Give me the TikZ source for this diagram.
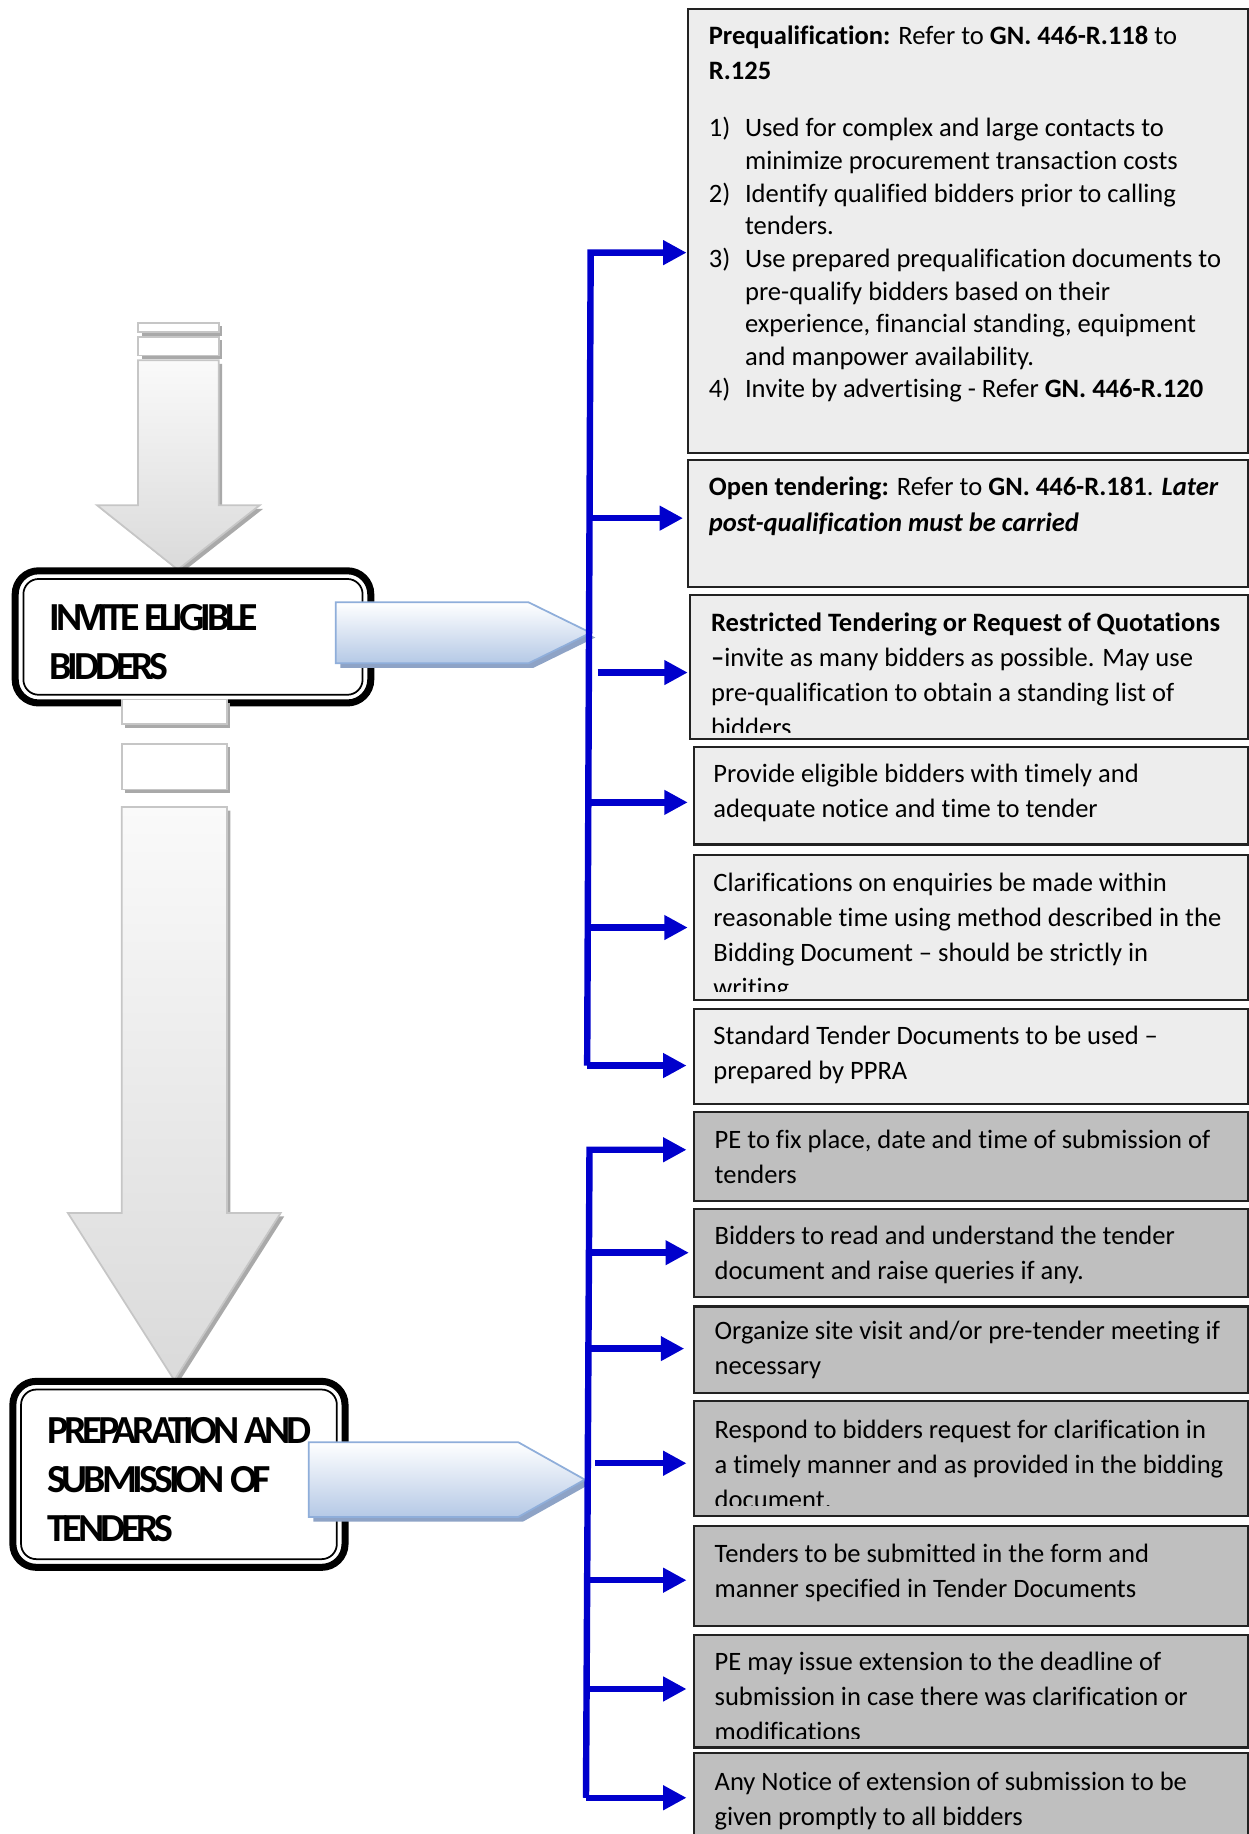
\documentclass[tikz,border=0pt]{standalone}
\usepackage{fontspec}
\setmainfont{Carlito}[Ligatures=NoCommon]
\newfontfamily\stagefont{Carlito}[LetterSpace=-10,Ligatures=NoCommon]
\usetikzlibrary{arrows.meta}

\definecolor{flowblue}{HTML}{0000CC}
\definecolor{lightbox}{HTML}{EDEDED}
\definecolor{darkbox}{HTML}{BFBFBF}
\definecolor{boxline}{HTML}{222222}
\definecolor{greytop}{HTML}{FAFAFA}
\definecolor{greybot}{HTML}{DADADA}
\definecolor{greyedge}{HTML}{C6C6C6}
\definecolor{greyshade}{HTML}{A9A9A9}
\definecolor{bluetop}{HTML}{FFFFFF}
\definecolor{bluebot}{HTML}{B5C9E6}
\definecolor{blueedge}{HTML}{8FAEDA}
\definecolor{blueshade}{HTML}{8EA3C6}

\newcommand\bodyfont{\fontsize{22.7}{30}\selectfont}
\newcommand\tline[1]{\hbox{#1}}
\newcommand\numline[2]{\hbox{\makebox[31pt][l]{#1}#2}}
\newcommand\contline[1]{\hbox{\kern31pt #1}}

\tikzset{
  infobox/.style={draw=boxline, line width=1.8pt, outer sep=0pt, inner sep=0pt, anchor=north west},
  lightinfo/.style={infobox, fill=lightbox},
  darkinfo/.style={infobox, fill=darkbox},
  txt/.style={inner sep=0pt, outer sep=0pt, anchor=base west, font=\bodyfont},
  stage/.style={draw=black, line width=6pt, rounded corners=20pt, fill=white, outer sep=0pt, inner sep=0pt, anchor=north west},
  stageinner/.style={draw=black, line width=1.5pt, rounded corners=13pt},
  stagetxt/.style={inner sep=0pt, anchor=base west, font={\stagefont\bfseries\fontsize{34}{42}\selectfont}},
  flow/.style={draw=flowblue, line width=5.5pt, line join=miter, -{Triangle[length=20pt,width=20pt]}},
  greyarrow/.style={top color=greytop, bottom color=greybot, draw=greyedge, line width=1.5pt},
  greystub/.style={fill=white, draw=greyedge, line width=1.5pt},
  greyshadow/.style={fill=greyshade},
  bluearrow/.style={top color=bluetop, bottom color=bluebot, draw=blueedge, line width=1.5pt},
  blueshadow/.style={fill=blueshade}
}

\begin{document}
\begin{tikzpicture}[x=1pt, y=-1pt]
\useasboundingbox (0,0) rectangle (1067,1568);

% ---------- information boxes ----------
\node[lightinfo, minimum width=479pt, minimum height=379pt] (b1) at (588,8) {};
\node[lightinfo, minimum width=479pt, minimum height=109pt] (b2) at (588,393) {};
\node[lightinfo, minimum width=477pt, minimum height=123pt] (b3) at (590,509) {};
\node[lightinfo, minimum width=474pt, minimum height=83pt]  (b4) at (593,639) {};
\node[lightinfo, minimum width=474pt, minimum height=124pt] (b5) at (593,731) {};
\node[lightinfo, minimum width=474pt, minimum height=81pt]  (b6) at (593,863) {};
\node[darkinfo, minimum width=474pt, minimum height=76pt]  (b7) at (593,951) {};
\node[darkinfo, minimum width=474pt, minimum height=75pt]  (b8) at (593,1034) {};
\node[darkinfo, minimum width=474pt, minimum height=74pt]  (b9) at (593,1117) {};
\node[darkinfo, minimum width=474pt, minimum height=98pt]  (b10) at (593,1198) {};
\node[darkinfo, minimum width=474pt, minimum height=85pt]  (b11) at (593,1305) {};
\node[darkinfo, minimum width=474pt, minimum height=96pt]  (b12) at (593,1398) {};
\node[darkinfo, minimum width=474pt, minimum height=100pt] (b13) at (593,1499) {};

% ---------- box texts ----------
\node[txt] (t1a) at (606,38) {\vtop{\baselineskip=30pt
  \tline{\textbf{Prequalification:} Refer to \textbf{GN. 446-R.118} to}
  \tline{\textbf{R.125}}}};
\node[txt] (t1b) at (606,117) {\vtop{\baselineskip=27.9pt
  \numline{1)}{Used for complex and large contacts to}
  \contline{minimize procurement transaction costs}
  \numline{2)}{Identify qualified bidders prior to calling}
  \contline{tenders.}
  \numline{3)}{Use prepared prequalification documents to}
  \contline{pre-qualify bidders based on their}
  \contline{experience, financial standing, equipment}
  \contline{and manpower availability.}
  \numline{4)}{Invite by advertising - Refer \textbf{GN. 446-R.120}}}};

\node[txt] (t2) at (606,424) {\vtop{
  \tline{\textbf{Open tendering:} Refer to \textbf{GN. 446-R.181}. \textbf{\textit{Later}}}
  \tline{\textbf{\textit{post-qualification must be carried}}}}};

\begin{scope}
  \clip ([yshift=6pt]b3.south west) rectangle (b3.north east);
  \node[txt] (t3) at (608,540) {\vtop{
    \tline{\textbf{Restricted Tendering or Request of Quotations}}
    \tline{\textbf{–}invite as many bidders as possible. May use}
    \tline{pre-qualification to obtain a standing list of}
    \tline{bidders}}};
\end{scope}

\node[txt] (t4) at (610,669) {\vtop{
  \tline{Provide eligible bidders with timely and}
  \tline{adequate notice and time to tender}}};

\begin{scope}
  \clip ([yshift=7pt]b5.south west) rectangle (b5.north east);
  \node[txt] (t5) at (610,762) {\vtop{
    \tline{Clarifications on enquiries be made within}
    \tline{reasonable time using method described in the}
    \tline{Bidding Document – should be strictly in}
    \tline{writing}}};
\end{scope}

\node[txt] (t6) at (610,893) {\vtop{
  \tline{Standard Tender Documents to be used –}
  \tline{prepared by PPRA}}};

\node[txt] (t7) at (611,982) {\vtop{
  \tline{PE to fix place, date and time of submission of}
  \tline{tenders}}};

\node[txt] (t8) at (611,1064) {\vtop{
  \tline{Bidders to read and understand the tender}
  \tline{document and raise queries if any.}}};

\node[txt] (t9) at (611,1145) {\vtop{
  \tline{Organize site visit and/or pre-tender meeting if}
  \tline{necessary}}};

\begin{scope}
  \clip ([yshift=8.5pt]b10.south west) rectangle (b10.north east);
  \node[txt] (t10) at (611,1229.5) {\vtop{
    \tline{Respond to bidders request for clarification in}
    \tline{a timely manner and as provided in the bidding}
    \tline{document.}}};
\end{scope}

\node[txt] (t11) at (611,1336) {\vtop{
  \tline{Tenders to be submitted in the form and}
  \tline{manner specified in Tender Documents}}};

\begin{scope}
  \clip ([yshift=7.5pt]b12.south west) rectangle (b12.north east);
  \node[txt] (t12) at (611,1428) {\vtop{
    \tline{PE may issue extension to the deadline of}
    \tline{submission in case there was clarification or}
    \tline{modifications}}};
\end{scope}

\node[txt] (t13) at (611,1531) {\vtop{
  \tline{Any Notice of extension of submission to be}
  \tline{given promptly to all bidders}}};

% ---------- upper stage: incoming grey arrow ----------
\foreach \ya/\yb in {276/284, 288/304} {
  \fill[greyshadow] (121,\ya+3) rectangle (190,\yb+3);
  \draw[greystub] (118,\ya) rectangle (187,\yb);
}
\fill[greyshadow, shift={(3,3)}]
  (118,308) -- (187,308) -- (187,432) -- (222,432) -- (152,487) -- (83,432) -- (118,432) -- cycle;
\shadedraw[greyarrow]
  (118,308) -- (187,308) -- (187,432) -- (222,432) -- (152,487) -- (83,432) -- (118,432) -- cycle;

% ---------- stage 1 ----------
\node[stage, minimum width=304pt, minimum height=113pt] (s1) at (13,488) {};
\draw[stageinner] ([shift={(7pt,7pt)}]s1.south west) rectangle ([shift={(-7pt,-7pt)}]s1.north east);
\node[stagetxt] (s1t) at (42,539) {\vtop{\baselineskip=42pt
  \tline{INVITE ELIGIBLE}\tline{BIDDERS}}};

% grey arrow leaving stage 1
\fill[greyshadow] (107,601) rectangle (197,622);
\draw[greystub] (104,598) rectangle (194,619);
\fill[greyshadow] (107,639) rectangle (197,678);
\draw[greystub] (104,636) rectangle (194,675);
\fill[greyshadow, shift={(3,3)}]
  (104,690) -- (194,690) -- (194,1037) -- (240,1037) -- (149,1180) -- (58,1037) -- (104,1037) -- cycle;
\shadedraw[greyarrow]
  (104,690) -- (194,690) -- (194,1037) -- (240,1037) -- (149,1180) -- (58,1037) -- (104,1037) -- cycle;

% pointer from stage 1 to its branch
\fill[blueshadow, shift={(4,4)}] (287,515) -- (452,515) -- (505,541) -- (452,567) -- (287,567) -- cycle;
\shadedraw[bluearrow] (287,515) -- (452,515) -- (505,541) -- (452,567) -- (287,567) -- cycle;

% ---------- stage 2 ----------
\node[stage, minimum width=284pt, minimum height=159pt] (s2) at (11,1181) {};
\draw[stageinner] ([shift={(7pt,7pt)}]s2.south west) rectangle ([shift={(-7pt,-7pt)}]s2.north east);
\node[stagetxt] (s2t) at (40,1234) {\vtop{\baselineskip=42pt
  \tline{PREPARATION AND}\tline{SUBMISSION OF}\tline{TENDERS}}};

\fill[blueshadow, shift={(4,4)}] (264,1233) -- (443,1233) -- (500,1265) -- (443,1297) -- (264,1297) -- cycle;
\shadedraw[bluearrow] (264,1233) -- (443,1233) -- (500,1265) -- (443,1297) -- (264,1297) -- cycle;

% ---------- upper branch ----------
\coordinate (ua) at (505,216);
\coordinate (ub) at (505,443);
\coordinate (uc) at (505,575);
\coordinate (ud) at (505,686);
\coordinate (ue) at (505,793);
\coordinate (uf) at (502,911);
\draw[flow] (uf) -- (ua) -- ([xshift=-1pt]ua -| b1.west);
\draw[flow] (ub) -- ([xshift=-4pt]ub -| b2.west);
\draw[flow] ([xshift=6pt]uc) -- ([xshift=-2pt]uc -| b3.west);
\draw[flow] (ud) -- ([xshift=-5pt]ud -| b4.west);
\draw[flow] (ue) -- ([xshift=-5pt]ue -| b5.west);
\draw[flow] (uf) -- ([xshift=-6pt]uf -| b6.west);

% ---------- lower branch ----------
\coordinate (la) at (504,983);
\coordinate (lb) at (504,1071);
\coordinate (lc) at (504,1153);
\coordinate (ld) at (504,1251);
\coordinate (le) at (504,1351);
\coordinate (lf) at (504,1444);
\coordinate (lg) at (501,1537);
\draw[flow] (lg) -- (la) -- ([xshift=-6pt]la -| b7.west);
\draw[flow] (lb) -- ([xshift=-4pt]lb -| b8.west);
\draw[flow] (lc) -- ([xshift=-8pt]lc -| b9.west);
\draw[flow] ([xshift=5pt]ld) -- ([xshift=-6pt]ld -| b10.west);
\draw[flow] (le) -- ([xshift=-6pt]le -| b11.west);
\draw[flow] (lf) -- ([xshift=-6pt]lf -| b12.west);
\draw[flow] (lg) -- ([xshift=-6pt]lg -| b13.west);
\end{tikzpicture}
\end{document}
